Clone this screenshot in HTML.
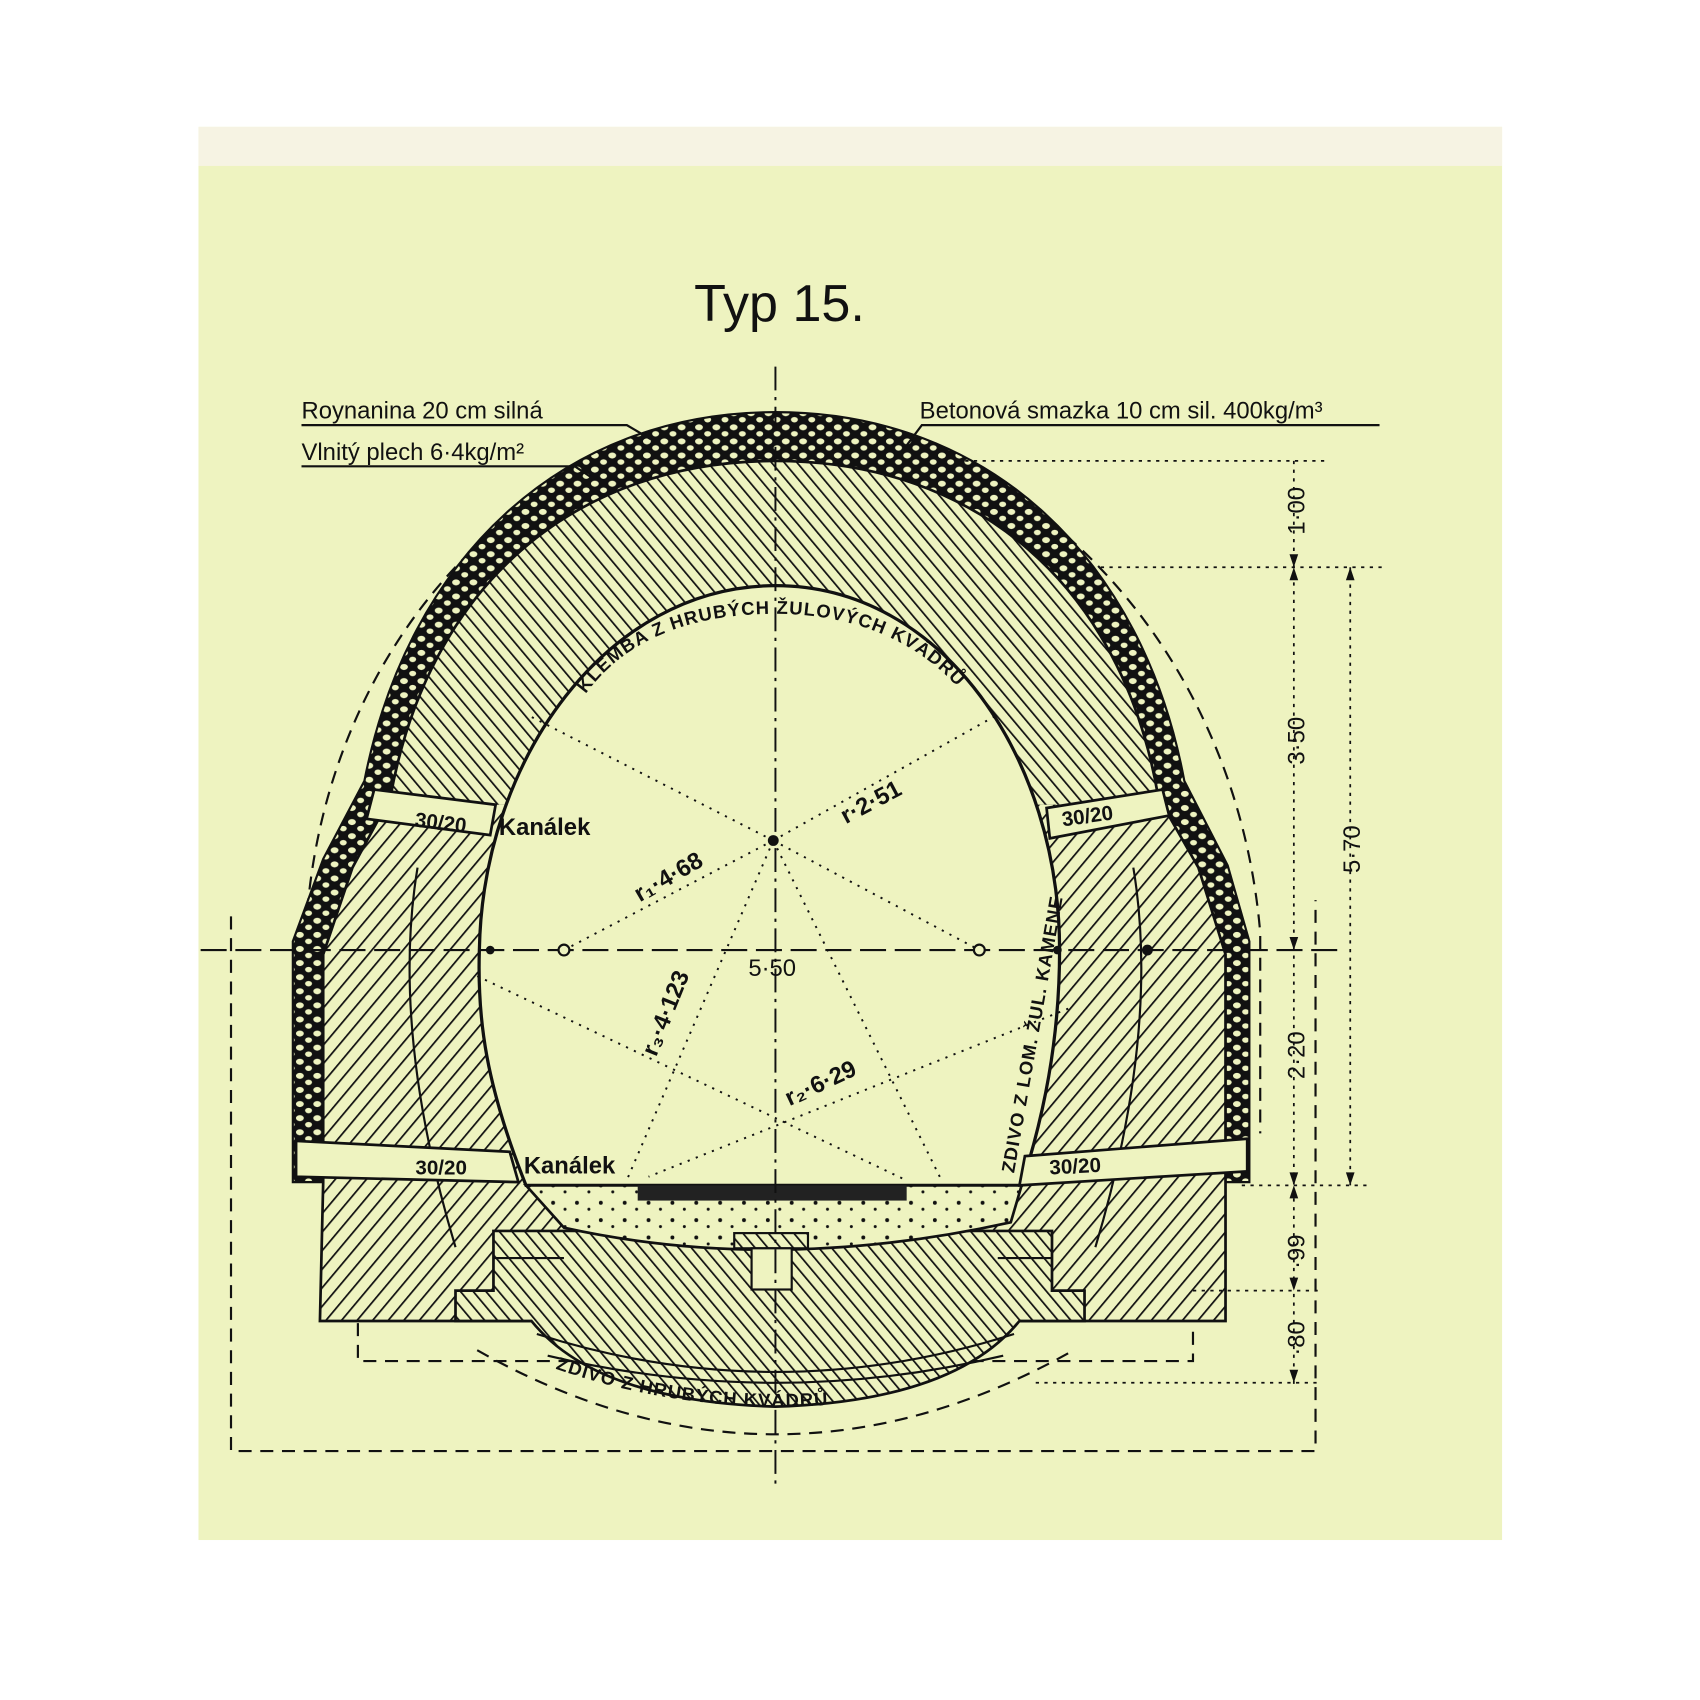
<!DOCTYPE html>
<html><head><meta charset="utf-8"><style>
html,body{margin:0;padding:0;background:#fff;}
svg{display:block;}
text{font-family:"Liberation Sans","DejaVu Sans",sans-serif;fill:#111;font-weight:bold;}
text.n{font-weight:normal;}
</style></head><body>
<svg width="1700" height="1700" viewBox="0 0 1567.5 1567.5" xmlns="http://www.w3.org/2000/svg">
<defs>
<pattern id="hA" width="9" height="9" patternUnits="userSpaceOnUse" patternTransform="rotate(-40)">
<rect width="9" height="9" fill="#eef3c0"/><line x1="0" y1="0" x2="0" y2="9" stroke="#111" stroke-width="3.2"/></pattern>
<pattern id="hB" width="11" height="11" patternUnits="userSpaceOnUse" patternTransform="rotate(40)">
<rect width="11" height="11" fill="#eef3c0"/><line x1="0" y1="0" x2="0" y2="11" stroke="#111" stroke-width="3.2"/></pattern>
<pattern id="rub" width="16" height="13" patternUnits="userSpaceOnUse">
<rect width="16" height="13" fill="#111"/><ellipse cx="4.5" cy="4" rx="3.6" ry="2.8" fill="#eef3c0"/><ellipse cx="12.5" cy="10" rx="3.2" ry="2.5" fill="#eef3c0"/></pattern>
<pattern id="dots" width="22" height="16" patternUnits="userSpaceOnUse">
<rect width="22" height="16" fill="#eef3c0"/><circle cx="4" cy="5" r="1.8" fill="#111"/><circle cx="15" cy="11" r="1.4" fill="#111"/></pattern>
<clipPath id="top"><rect x="0" y="0" width="1567" height="742"/></clipPath>
<clipPath id="bot"><rect x="0" y="742" width="1567" height="800"/></clipPath>
<path id="arcK" d="M540,640 C580,585 645,566 715,566 C785,566 855,590 900,655"/>
<path id="arcZ" d="M512,1262 Q650,1310 800,1292"/>
</defs>
<rect x="0" y="0" width="1567.5" height="1567.5" fill="#fff"/>
<rect x="183" y="117" width="1202" height="1303" fill="#eef3c0"/>
<rect x="183" y="117" width="1202" height="36" fill="#f6f3e3"/>

<text class="n" x="640" y="296" font-size="48">Typ 15.</text>

<g fill="none" stroke="#111" stroke-width="2" stroke-dasharray="12,8">
<path d="M280,1000 L282,860 C295,600 480,392 715,388 C950,392 1140,600 1162,860 L1162,1045"/>
<path d="M213,845 L213,1338 L1213,1338 L1213,830"/>
<path d="M330,1220 L330,1255 L1100,1255 L1100,1220"/>
<path d="M440,1245 Q715,1400 990,1245"/>
</g>

<path d="M270,1090 L270,868 L298,792 L336,720 C376,515 518,380 715,380 C912,380 1054,515 1092,720 L1132,798 L1152,868 L1152,1090 Z" fill="url(#rub)" stroke="#111" stroke-width="2"/>
<g stroke="#111" stroke-width="2.5">
<path d="M298,1090 L298,880 L325,800 L360,735 C395,540 530,425 715,425 C900,425 1035,540 1068,735 L1105,800 L1130,880 L1130,1218 L295,1218 Z" fill="url(#hA)" clip-path="url(#top)"/>
<path d="M298,1090 L298,880 L325,800 L360,735 C395,540 530,425 715,425 C900,425 1035,540 1068,735 L1105,800 L1130,880 L1130,1218 L295,1218 Z" fill="url(#hB)" clip-path="url(#bot)"/>
<path d="M455,1135 L970,1135 L970,1190 L1000,1190 L1000,1218 L940,1218 Q880,1292 715,1297 Q550,1292 490,1218 L420,1218 L420,1190 L455,1190 Z" fill="url(#hA)"/>
</g>
<g fill="none" stroke="#111" stroke-width="2">
<path d="M455,1160 L520,1160 M920,1160 L970,1160 M495,1230 Q715,1300 935,1230 M505,1250 Q715,1300 925,1250"/>
<path d="M385,800 Q360,950 420,1150 M1045,800 Q1070,950 1010,1150"/>
</g>
<path d="M485,1093 C448,1000 440,940 442,876 C445,700 560,540 715,540 C870,540 977,700 977,876 C977,960 962,1030 942,1093 Z" fill="#eef3c0" stroke="#111" stroke-width="3"/>
<path d="M485,1093 L942,1093 L932,1127 Q715,1175 520,1132 Z" fill="url(#dots)" stroke="#111" stroke-width="2.5"/>
<rect x="588" y="1093" width="248" height="14" fill="#222"/>
<rect x="677" y="1137" width="68" height="14" fill="url(#hA)" stroke="#111" stroke-width="2"/>
<rect x="693" y="1151" width="37" height="38" fill="#eef3c0" stroke="#111" stroke-width="2"/>

<g fill="#eef3c0" stroke="#111" stroke-width="2.5">
<path d="M345,728 L457,742 L452,770 L338,755 Z"/>
<path d="M965,745 L1072,728 L1078,752 L968,773 Z"/>
<path d="M273,1052 L470,1062 L478,1090 L273,1085 Z"/>
<path d="M945,1066 L1150,1050 L1150,1080 L940,1093 Z"/>
</g>
<g font-size="19">
<text x="382" y="762" transform="rotate(7 382 762)">30/20</text>
<text x="980" y="762" transform="rotate(-8 980 762)">30/20</text>
<text x="383" y="1083">30/20</text>
<text x="968" y="1083" transform="rotate(-3 968 1083)">30/20</text>
</g>
<text x="460" y="770" font-size="22">Kanálek</text>
<text x="483" y="1082" font-size="22">Kanálek</text>

<line x1="715" y1="338" x2="715" y2="1372" stroke="#111" stroke-width="1.8" stroke-dasharray="22,6,3,6"/>
<line x1="185" y1="876" x2="1240" y2="876" stroke="#111" stroke-width="2" stroke-dasharray="24,8"/>

<g stroke="#111" stroke-width="1.8" stroke-dasharray="2,6" fill="none">
<line x1="713" y1="775" x2="488" y2="660"/>
<line x1="713" y1="775" x2="918" y2="660"/>
<line x1="713" y1="775" x2="520" y2="876"/>
<line x1="713" y1="775" x2="903" y2="876"/>
<line x1="713" y1="775" x2="578" y2="1088"/>
<line x1="713" y1="775" x2="868" y2="1088"/>
<line x1="440" y1="900" x2="835" y2="1088"/>
<line x1="985" y1="930" x2="598" y2="1085"/>
</g>
<circle cx="713" cy="775" r="5" fill="#111"/>
<circle cx="520" cy="876" r="5" fill="#eef3c0" stroke="#111" stroke-width="2"/>
<circle cx="903" cy="876" r="5" fill="#eef3c0" stroke="#111" stroke-width="2"/>
<circle cx="452" cy="876" r="4" fill="#111"/>
<circle cx="975" cy="876" r="4" fill="#111"/>
<circle cx="1058" cy="876" r="5" fill="#111"/>

<g font-size="22">
<text x="780" y="760" transform="rotate(-28 780 760)">r·2·51</text>
<text x="590" y="832" transform="rotate(-30 590 832)">r₁·4·68</text>
<text class="n" x="690" y="900">5·50</text>
<text x="605" y="975" transform="rotate(-68 605 975)">r₃·4·123</text>
<text x="728" y="1020" transform="rotate(-25 728 1020)">r₂·6·29</text>
</g>
<text font-size="17" letter-spacing="1"><textPath href="#arcK">KLEMBA Z HRUBÝCH ŽULOVÝCH KVÁDRŮ</textPath></text>
<text x="935" y="1082" font-size="17" transform="rotate(-80 935 1082)" letter-spacing="1">ZDIVO Z LOM. ŽUL. KAMENE</text>
<text font-size="17" letter-spacing="1"><textPath href="#arcZ">ZDIVO Z HRUBÝCH KVÁDRŮ</textPath></text>

<g font-size="22">
<text class="n" x="278" y="386">Roynanina 20 cm silná</text>
<text class="n" x="278" y="424">Vlnitý plech 6·4kg/m²</text>
<text class="n" x="848" y="386">Betonová smazka 10 cm sil. 400kg/m³</text>
</g>
<g stroke="#111" stroke-width="2" fill="none">
<path d="M278,392 L578,392 L600,405"/>
<path d="M278,430 L530,430 L545,440"/>
<path d="M1272,392 L850,392 L835,412"/>
</g>

<g stroke="#111" stroke-width="1.6" stroke-dasharray="3,5" fill="none">
<line x1="890" y1="425" x2="1222" y2="425"/>
<line x1="1015" y1="523" x2="1275" y2="523"/>
<line x1="1145" y1="1093" x2="1265" y2="1093"/>
<line x1="1100" y1="1190" x2="1215" y2="1190"/>
<line x1="955" y1="1275" x2="1215" y2="1275"/>
<line x1="1193" y1="425" x2="1193" y2="1280"/>
<line x1="1245" y1="523" x2="1245" y2="1093"/>
</g>
<g fill="#111">
<path d="M1193,523 l-4,-12 h8 z M1193,523 l-4,12 h8 z M1193,876 l-4,-12 h8 z M1193,1093 l-4,-12 h8 z M1193,1093 l-4,12 h8 z M1193,1190 l-4,-12 h8 z M1193,1275 l-4,-12 h8 z M1245,523 l-4,12 h8 z M1245,1093 l-4,-12 h8 z"/>
</g>
<g font-size="22">
<text class="n" x="1203" y="493" transform="rotate(-90 1203 493)">1·00</text>
<text class="n" x="1203" y="705" transform="rotate(-90 1203 705)">3·50</text>
<text class="n" x="1203" y="995" transform="rotate(-90 1203 995)">2·20</text>
<text class="n" x="1203" y="1170" transform="rotate(-90 1203 1170)">·99</text>
<text class="n" x="1203" y="1250" transform="rotate(-90 1203 1250)">·80</text>
<text class="n" x="1254" y="805" transform="rotate(-90 1254 805)">5·70</text>
</g>
</svg>
</body></html>
